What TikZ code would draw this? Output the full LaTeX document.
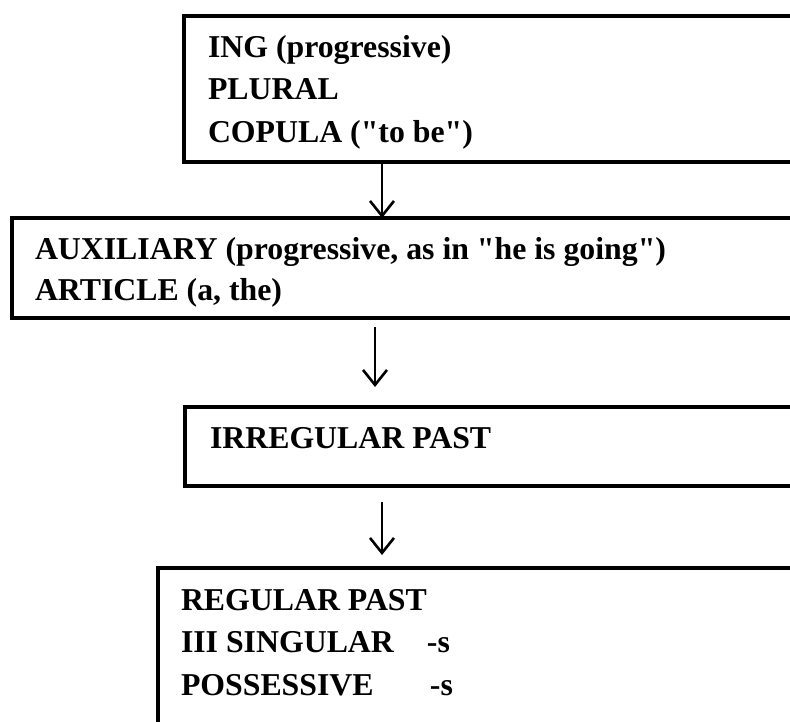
\documentclass[tikz,border=0pt]{standalone}
\usepackage{fontspec}
\setmainfont{Liberation Serif}[Ligatures=TeXOff]
\usetikzlibrary{arrows.meta}
\begin{document}
\begin{tikzpicture}[x=1pt,y=-1pt,
  frame/.style={draw=black,line width=4.5pt,inner sep=0pt,outer sep=0pt,anchor=north west,minimum width=1000pt},
  txt/.style={inner sep=0pt,outer sep=0pt,anchor=base west,font=\fontsize{31.8}{31.8}\selectfont\bfseries},
  arr/.style={line width=2.6pt,-{Straight Barb[length=15pt,width=24pt]}}]
\useasboundingbox (0,0) rectangle (790,722);
% boxes (open to the right, running off the page)
\node[frame,minimum height=146pt] (b1) at (184,16) {};
\node[frame,minimum height=100pt] (b2) at (12,218) {};
\node[frame,minimum height=79pt]  (b3) at (185,407) {};
\node[frame,minimum height=250pt] (b4) at (158,568) {};
% texts
\node[txt] (t1a) at (208,58) {ING (progressive)};
\node[txt] (t1b) at (208,100) {PLURAL};
\node[txt] (t1c) at (208,143) {COPULA ("to be")};
\node[txt] (t2a) at (35,260) {AUXILIARY (progressive, as in "he is going")};
\node[txt] (t2b) at (35,301) {ARTICLE (a, the)};
\node[txt] (t3a) at (210,448) {IRREGULAR PAST};
\node[txt] (t4a) at (181,610) {REGULAR PAST};
\node[txt] (t4b) at (181,652) {\makebox[246pt][l]{III SINGULAR}-s};
\node[txt] (t4c) at (181,695) {\makebox[249pt][l]{POSSESSIVE}-s};
% connectors
\draw[arr] (b1.south west -| 382,0) -- (b2.north west -| 382,0);
\draw[arr,shorten <=9pt,shorten >=20pt] (b2.south west -| 375,0) -- (b3.north west -| 375,0);
\draw[arr,shorten <=16pt,shorten >=13pt] (b3.south west -| 382,0) -- (b4.north west -| 382,0);
\end{tikzpicture}
\end{document}
